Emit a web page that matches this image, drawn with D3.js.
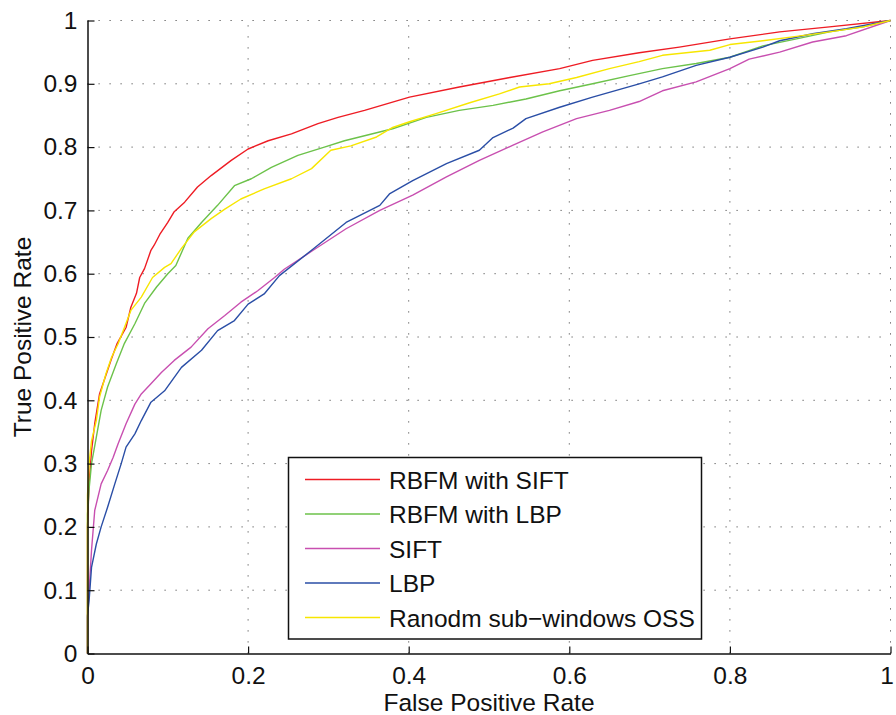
<!DOCTYPE html>
<html>
<head>
<meta charset="utf-8">
<script src="https://cdn.jsdelivr.net/npm/d3@7"></script>
<style>
  html, body { margin: 0; padding: 0; background: #fff; }
  text { font-family: "Liberation Sans", Arial, Helvetica, sans-serif; }
</style>
</head>
<body>
<svg id="chart" width="896" height="715"></svg>
<script>
// ---- data ----
const seriesNames = ["RBFM with SIFT", "RBFM with LBP", "SIFT", "LBP", "Ranodm sub\u2212windows OSS"];
const seriesColors = ["#ee1c24", "#6cc24a", "#c84fb0", "#2a4ea6", "#f7e600"];

const rbfmSiftFPR = [0,0,0.002,0.005,0.009,0.015,0.023,0.03,0.037,0.048,0.054,0.061,0.065,0.071,0.079,0.083,0.09,0.1,0.108,0.121,0.137,0.154,0.179,0.2,0.225,0.254,0.287,0.312,0.345,0.401,0.463,0.526,0.588,0.629,0.687,0.737,0.8,0.862,0.924,1];
const rbfmSiftTPR = [0,0.2,0.27,0.32,0.363,0.41,0.44,0.466,0.49,0.515,0.547,0.569,0.594,0.608,0.637,0.645,0.662,0.681,0.698,0.713,0.737,0.755,0.779,0.797,0.81,0.821,0.837,0.847,0.858,0.879,0.895,0.91,0.924,0.937,0.949,0.958,0.971,0.982,0.99,1];

const rbfmLbpFPR = [0,0,0.002,0.005,0.011,0.017,0.025,0.036,0.046,0.059,0.071,0.086,0.1,0.11,0.125,0.142,0.162,0.183,0.204,0.229,0.262,0.295,0.32,0.345,0.38,0.422,0.463,0.505,0.546,0.588,0.629,0.675,0.716,0.758,0.8,0.841,0.883,0.924,0.966,1];
const rbfmLbpTPR = [0,0.22,0.26,0.3,0.342,0.384,0.421,0.458,0.49,0.521,0.553,0.579,0.6,0.613,0.656,0.681,0.708,0.739,0.75,0.768,0.787,0.8,0.81,0.818,0.829,0.847,0.858,0.866,0.876,0.889,0.9,0.913,0.924,0.932,0.942,0.96,0.971,0.982,0.99,1];

const siftFPR = [0,0,0.005,0.009,0.017,0.025,0.032,0.038,0.048,0.059,0.067,0.079,0.092,0.108,0.129,0.15,0.171,0.191,0.212,0.233,0.245,0.281,0.322,0.364,0.405,0.447,0.488,0.53,0.567,0.609,0.65,0.687,0.716,0.758,0.8,0.824,0.862,0.903,0.945,1];
const siftTPR = [0,0.057,0.163,0.226,0.268,0.289,0.31,0.331,0.363,0.394,0.41,0.426,0.444,0.463,0.484,0.513,0.534,0.555,0.573,0.594,0.607,0.637,0.671,0.7,0.724,0.753,0.779,0.803,0.824,0.845,0.858,0.872,0.889,0.903,0.924,0.939,0.95,0.966,0.976,1];

const lbpFPR = [0,0,0.002,0.005,0.011,0.017,0.025,0.034,0.042,0.048,0.059,0.067,0.079,0.096,0.117,0.142,0.162,0.183,0.2,0.22,0.239,0.281,0.322,0.364,0.376,0.405,0.447,0.488,0.505,0.53,0.546,0.588,0.629,0.687,0.716,0.758,0.8,0.841,0.862,0.903,0.945,1];
const lbpTPR = [0,0.06,0.084,0.136,0.173,0.2,0.231,0.268,0.3,0.326,0.347,0.368,0.397,0.415,0.452,0.479,0.51,0.526,0.552,0.568,0.597,0.639,0.681,0.708,0.726,0.747,0.774,0.795,0.815,0.83,0.845,0.863,0.879,0.9,0.911,0.929,0.942,0.958,0.968,0.979,0.987,1];

const ossFPR = [0,0,0.002,0.005,0.011,0.015,0.023,0.03,0.038,0.046,0.054,0.067,0.081,0.096,0.104,0.117,0.133,0.154,0.171,0.191,0.22,0.254,0.279,0.303,0.328,0.36,0.38,0.401,0.434,0.476,0.513,0.538,0.575,0.609,0.65,0.687,0.716,0.775,0.8,0.841,0.883,0.924,0.966,1];
const ossTPR = [0,0.25,0.3,0.336,0.368,0.405,0.442,0.468,0.489,0.515,0.542,0.563,0.594,0.61,0.616,0.64,0.666,0.687,0.702,0.718,0.734,0.75,0.766,0.795,0.802,0.816,0.831,0.84,0.853,0.87,0.884,0.895,0.9,0.91,0.924,0.935,0.945,0.953,0.962,0.968,0.975,0.982,0.99,1];

const xTicks = [0, 0.2, 0.4, 0.6, 0.8, 1];
const yTicks = [0, 0.1, 0.2, 0.3, 0.4, 0.5, 0.6, 0.7, 0.8, 0.9, 1];
const xTitle = "False Positive Rate";
const yTitle = "True Positive Rate";

// ---- layout ----
const svg = d3.select("#chart");
const L = 87.5, R = 890.5, T = 20.5, B = 653.5;
const FS = 24.5;
const x = d3.scaleLinear().domain([0, 1]).range([L, R]);
const y = d3.scaleLinear().domain([0, 1]).range([B, T]);
const fmt = d => d === 0 ? "0" : d === 1 ? "1" : String(d);

// grid (dotted)
const grid = svg.append("g");
grid.selectAll("line.gx").data(xTicks.filter(d => d > 0)).join("line")
  .attr("x1", d => x(d)).attr("x2", d => x(d)).attr("y1", B).attr("y2", T)
  .attr("stroke", "#555").attr("stroke-width", 1).attr("stroke-dasharray", "1.2,9.8");
grid.selectAll("line.gy").data(yTicks.filter(d => d > 0)).join("line")
  .attr("y1", d => y(d)).attr("y2", d => y(d)).attr("x1", L).attr("x2", R)
  .attr("stroke", "#555").attr("stroke-width", 1).attr("stroke-dasharray", "1.2,9.8");

// series
const series = [
  [rbfmSiftFPR, rbfmSiftTPR],
  [rbfmLbpFPR, rbfmLbpTPR],
  [siftFPR, siftTPR],
  [lbpFPR, lbpTPR],
  [ossFPR, ossTPR]
];
const line = d3.line().x(d => x(d[0])).y(d => y(d[1]));
series.forEach((s, i) => {
  const pts = s[0].map((v, j) => [v, s[1][j]]);
  svg.append("path").datum(pts).attr("d", line)
    .attr("fill", "none").attr("stroke", seriesColors[i])
    .attr("stroke-width", 1.4).attr("stroke-linejoin", "round");
});

// axes
const xAxis = d3.axisBottom(x).tickValues(xTicks).tickFormat(fmt).tickSizeInner(-7).tickSizeOuter(0).tickPadding(13);
const yAxis = d3.axisLeft(y).tickValues(yTicks).tickFormat(fmt).tickSizeInner(-7).tickSizeOuter(0).tickPadding(10);
const gx = svg.append("g").attr("transform", `translate(0,${B})`).call(xAxis);
const gy = svg.append("g").attr("transform", `translate(${L},0)`).call(yAxis);
[gx, gy].forEach(g => {
  g.select(".domain").attr("stroke", "#111").attr("stroke-width", 1.5);
  g.selectAll(".tick line").attr("stroke", "#111").attr("stroke-width", 1.2);
  g.selectAll(".tick text").attr("fill", "#111").attr("font-size", FS)
    .attr("font-family", "'Liberation Sans', Arial, sans-serif");
});
// keep the last x label fully inside the picture
gx.selectAll(".tick text").filter(d => d === 1).attr("text-anchor", "end").attr("dx", 3);

// axis titles
svg.append("text").attr("x", (L + R) / 2).attr("y", 711).attr("text-anchor", "middle")
  .attr("font-size", FS).attr("fill", "#111").text(xTitle);
svg.append("text").attr("transform", `translate(31,${(T + B) / 2}) rotate(-90)`)
  .attr("text-anchor", "middle").attr("font-size", FS).attr("fill", "#111").text(yTitle);

// legend
const lg = svg.append("g");
lg.append("rect").attr("x", 288.5).attr("y", 457.5).attr("width", 413).attr("height", 181.5)
  .attr("fill", "#fff").attr("stroke", "#111").attr("stroke-width", 1.5);
seriesNames.forEach((n, i) => {
  const yy = 479.5 + i * 34.5;
  lg.append("line").attr("x1", 305).attr("x2", 380).attr("y1", yy).attr("y2", yy)
    .attr("stroke", seriesColors[i]).attr("stroke-width", 1.4);
  lg.append("text").attr("x", 389).attr("y", yy + 9).attr("font-size", FS)
    .attr("fill", "#111").text(n);
});
</script>
</body>
</html>
